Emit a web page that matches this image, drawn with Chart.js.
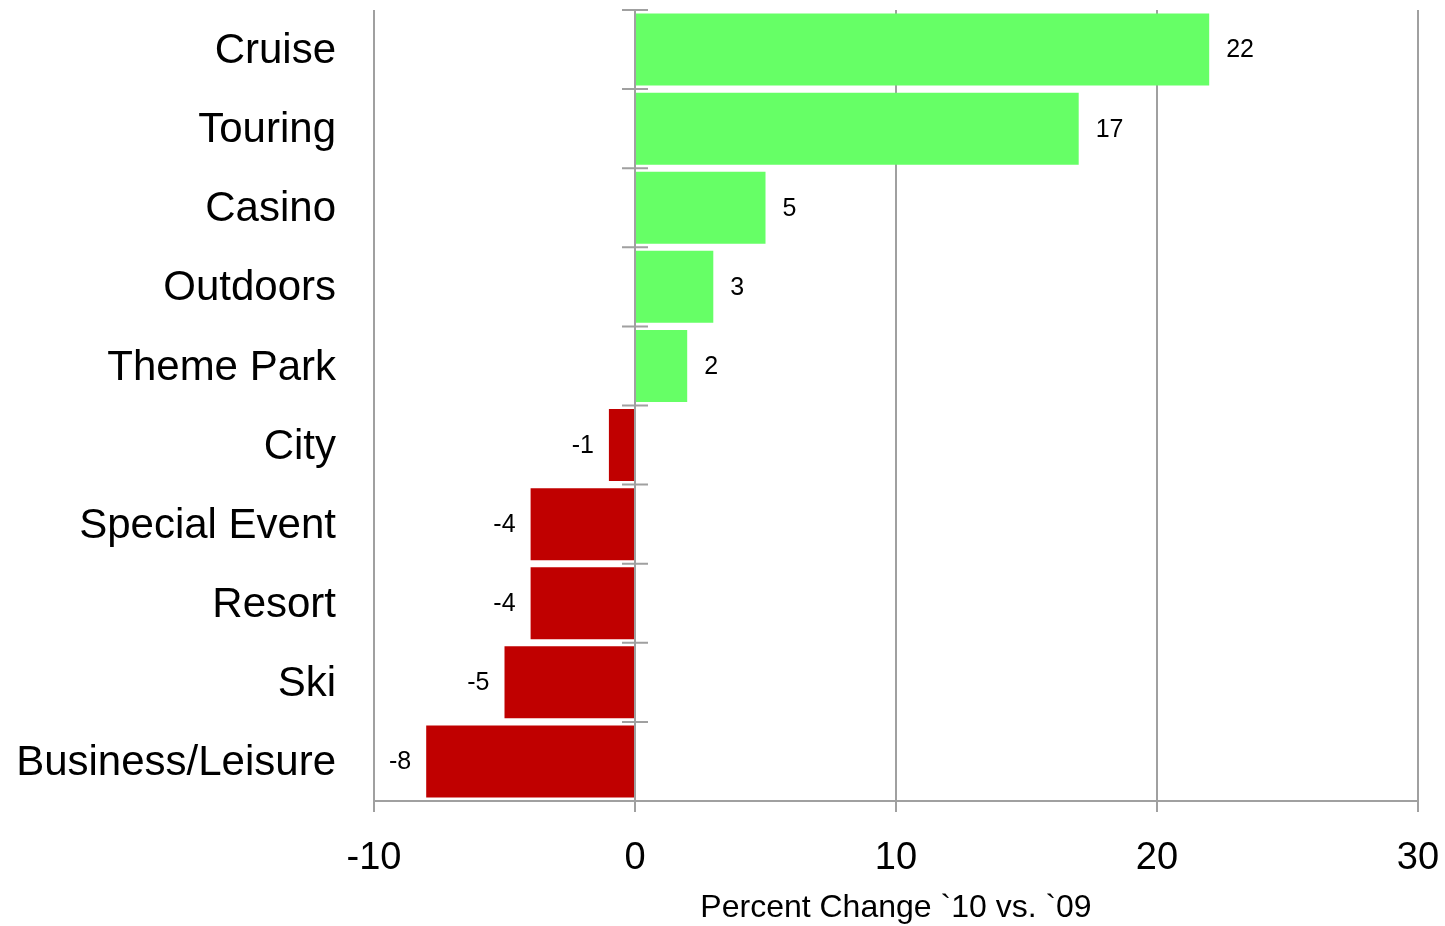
<!DOCTYPE html>
<html>
<head>
<meta charset="utf-8">
<script src="https://cdn.jsdelivr.net/npm/chart.js@4"></script>
<style>
  html, body { margin: 0; padding: 0; background: #fff; }
  #wrap { width: 1445px; height: 926px; }
</style>
</head>
<body>
<div id="wrap"><canvas id="myChart"></canvas></div>
<script>
var categorias = ['Cruise', 'Touring', 'Casino', 'Outdoors', 'Theme Park', 'City', 'Special Event', 'Resort', 'Ski', 'Business/Leisure'];
var variacao = [22, 17, 5, 3, 2, -1, -4, -4, -5, -8];
var eixoMin = -10;
var eixoMax = 30;
var eixoPasso = 10;
var tituloEixo = 'Percent Change `10 vs. `09';

var corGrade = '#a0a0a0';
var fonte = 'Arial, "Liberation Sans", sans-serif';

// linha do zero com tracinhos entre as categorias
var linhaZero = {
    id: 'linhaZero',
    afterDatasetsDraw: function (chart) {
        var ctx = chart.ctx;
        var x = chart.scales.x.getPixelForValue(0);
        var y = chart.scales.y;
        var area = chart.chartArea;
        var passo = y.getPixelForValue(1) - y.getPixelForValue(0);
        ctx.save();
        ctx.strokeStyle = corGrade;
        ctx.lineWidth = 2;
        ctx.beginPath();
        ctx.moveTo(x, area.top);
        ctx.lineTo(x, area.bottom);
        for (var i = 0; i < categorias.length; i++) {
            var yy = y.getPixelForValue(i) - passo / 2;
            ctx.moveTo(x - 13, yy);
            ctx.lineTo(x + 13, yy);
        }
        ctx.stroke();
        ctx.restore();
    }
};

// valores ao lado das barras
var rotulos = {
    id: 'rotulos',
    afterDatasetsDraw: function (chart) {
        var ctx = chart.ctx;
        var meta = chart.getDatasetMeta(0);
        ctx.save();
        ctx.font = '25px ' + fonte;
        ctx.fillStyle = '#000';
        ctx.textBaseline = 'middle';
        meta.data.forEach(function (bar, i) {
            var v = variacao[i];
            if (v >= 0) {
                ctx.textAlign = 'left';
                ctx.fillText(String(v), bar.x + 17, bar.y + 1);
            } else {
                ctx.textAlign = 'right';
                ctx.fillText(String(v), bar.x - 15, bar.y + 1);
            }
        });
        ctx.restore();
    }
};

function semPadding(scale) {
    scale.paddingTop = 0;
    scale.paddingBottom = 0;
    scale.paddingLeft = 0;
    scale.paddingRight = 0;
}

var ctx = document.getElementById('myChart');
var chart = new Chart(ctx, {
    type: 'bar',
    data: {
        labels: categorias,
        datasets: [{
            data: variacao,
            backgroundColor: variacao.map(function (v) { return v >= 0 ? '#66ff66' : '#c00000'; }),
            borderWidth: 0,
            categoryPercentage: 1,
            barPercentage: 0.91
        }]
    },
    options: {
        indexAxis: 'y',
        responsive: true,
        maintainAspectRatio: false,
        animation: false,
        layout: { padding: { top: 10, right: 27, bottom: 0, left: 0 } },
        plugins: {
            legend: { display: false },
            tooltip: { enabled: false }
        },
        scales: {
            x: {
                min: eixoMin,
                max: eixoMax,
                ticks: {
                    stepSize: eixoPasso,
                    color: '#000',
                    padding: 24,
                    font: { family: fonte, size: 38 }
                },
                grid: {
                    color: corGrade,
                    lineWidth: 2,
                    tickLength: 11,
                    tickColor: corGrade
                },
                border: { display: true, color: corGrade, width: 2 },
                title: {
                    display: true,
                    text: tituloEixo,
                    color: '#000',
                    padding: { top: 0, bottom: 0 },
                    font: { family: fonte, size: 32, lineHeight: 1.1 }
                },
                afterFit: function (scale) {
                    scale.height = 125;
                    semPadding(scale);
                }
            },
            y: {
                ticks: {
                    color: '#000',
                    padding: 38,
                    labelOffset: 2,
                    font: { family: fonte, size: 42 }
                },
                grid: { display: false, drawTicks: false },
                border: { display: false },
                afterFit: function (scale) {
                    scale.width = 374;
                    semPadding(scale);
                }
            }
        }
    },
    plugins: [linhaZero, rotulos]
});
</script>
</body>
</html>
